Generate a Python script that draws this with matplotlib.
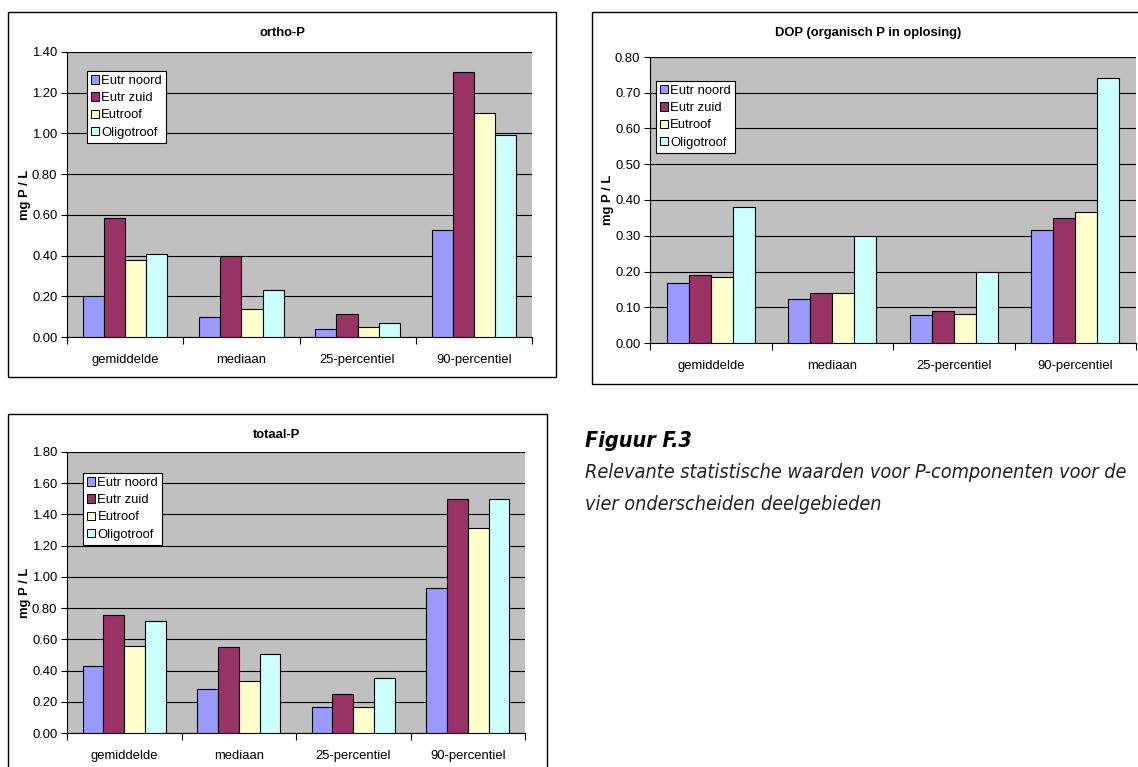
import matplotlib
matplotlib.use("Agg")
import matplotlib.pyplot as plt
from matplotlib.patches import Rectangle, Patch
import numpy as np

# Statistics per sub-area
categories = ["gemiddelde", "mediaan", "25-percentiel", "90-percentiel"]
series_names = ["Eutr noord", "Eutr zuid", "Eutroof", "Oligotroof"]
series_colors = ["#9999FF", "#993366", "#FFFFCC", "#CCFFFF"]

ortho_noord = [0.20, 0.10, 0.038, 0.527]
ortho_zuid = [0.585, 0.40, 0.112, 1.30]
ortho_eutroof = [0.377, 0.14, 0.051, 1.10]
ortho_oligo = [0.409, 0.23, 0.07, 0.993]

dop_noord = [0.169, 0.123, 0.078, 0.316]
dop_zuid = [0.191, 0.139, 0.09, 0.35]
dop_eutroof = [0.186, 0.139, 0.08, 0.367]
dop_oligo = [0.38, 0.30, 0.20, 0.74]

totaal_noord = [0.426, 0.283, 0.169, 0.927]
totaal_zuid = [0.754, 0.55, 0.25, 1.50]
totaal_eutroof = [0.559, 0.332, 0.169, 1.31]
totaal_oligo = [0.719, 0.507, 0.351, 1.50]

W, H = 1138, 767
fig = plt.figure(figsize=(W / 100, H / 100), dpi=100)
plt.rcParams["font.family"] = ["Liberation Sans", "DejaVu Sans"]
FS = 9.4


def px_axes(x0, y0, x1, y1):
    return fig.add_axes([x0 / W, 1 - y1 / H, (x1 - x0) / W, (y1 - y0) / H])


def frame(x0, y0, x1, y1):
    fig.patches.append(Rectangle((x0 / W, 1 - y1 / H), (x1 - x0) / W, (y1 - y0) / H,
                                 transform=fig.transFigure, fill=False,
                                 edgecolor="black", linewidth=1.0, zorder=0))


def chart(ax, data, ymax, step, title, title_xy, leg_anchor):
    x = np.arange(len(categories))
    bw = 0.182
    for i, (vals, col) in enumerate(zip(data, series_colors)):
        ax.bar(x + (i - 1.5) * bw, vals, width=bw, color=col,
               edgecolor="black", linewidth=0.8, zorder=3)
    ax.set_facecolor("#C0C0C0")
    ax.set_xlim(-0.5, len(categories) - 0.5)
    ax.set_ylim(0, ymax)
    ticks = np.arange(0, ymax + step / 2, step)
    ax.set_yticks(ticks)
    ax.set_yticklabels([f"{t:.2f}" for t in ticks], fontsize=FS)
    ax.yaxis.grid(True, color="black", linewidth=0.8, zorder=1)
    ax.set_axisbelow(True)
    ax.set_xticks(x)
    ax.set_xticklabels(categories, fontsize=FS)
    ax.set_xticks(np.arange(-0.5, len(categories)), minor=True)
    ax.tick_params(axis="x", which="major", length=0, pad=12)
    ax.tick_params(axis="x", which="minor", length=5, width=0.8, direction="out")
    ax.tick_params(axis="y", length=4, width=0.8, direction="out", pad=3)
    for s in ("top", "right"):
        ax.spines[s].set_visible(False)
    for s in ("left", "bottom"):
        ax.spines[s].set_linewidth(0.8)
    ax.set_ylabel("mg P / L", fontsize=FS, fontweight="bold", labelpad=1)
    fig.text(title_xy[0] / W, 1 - title_xy[1] / H, title, ha="center", va="center",
             fontsize=FS, fontweight="bold")
    handles = [Patch(facecolor=c, edgecolor="black", linewidth=0.7) for c in series_colors]
    leg = ax.legend(handles, series_names, loc="upper left", bbox_to_anchor=leg_anchor,
                    fontsize=FS, frameon=True, fancybox=False, framealpha=1,
                    edgecolor="black", handlelength=0.6, handleheight=0.6,
                    handletextpad=0.2, labelspacing=0.4, borderpad=0.3,
                    borderaxespad=0)
    leg.get_frame().set_linewidth(0.8)
    leg.set_zorder(5)


# ortho-P
frame(8, 12, 556, 377)
ax1 = px_axes(67, 52, 532, 337)
chart(ax1, [ortho_noord, ortho_zuid, ortho_eutroof, ortho_oligo], 1.40, 0.20,
      "ortho-P", (282, 33), (0.043, 0.933))

# DOP
frame(592, 12, 1145, 384)
ax2 = px_axes(650, 57, 1136, 343)
chart(ax2, [dop_noord, dop_zuid, dop_eutroof, dop_oligo], 0.80, 0.10,
      "DOP (organisch P in oplosing)", (868, 33), (0.012, 0.916))

# totaal-P
frame(8, 414, 547, 775)
ax3 = px_axes(67, 452, 525, 733)
chart(ax3, [totaal_noord, totaal_zuid, totaal_eutroof, totaal_oligo], 1.80, 0.20,
      "totaal-P", (277, 435), (0.035, 0.925))

# Caption
cap = dict(family=["DejaVu Sans"], fontstretch="condensed", fontstyle="italic",
           va="center", ha="left")
fig.text(585 / W, 1 - 441 / H, "Figuur F.3", fontsize=15.5, fontweight="bold", **cap)
fig.text(585 / W, 1 - 473 / H,
         "Relevante statistische waarden voor P-componenten voor de",
         fontsize=14.2, color="#222222", **cap)
fig.text(585 / W, 1 - 505 / H, "vier onderscheiden deelgebieden",
         fontsize=14.2, color="#222222", **cap)

fig.savefig("out.png", dpi=100)
